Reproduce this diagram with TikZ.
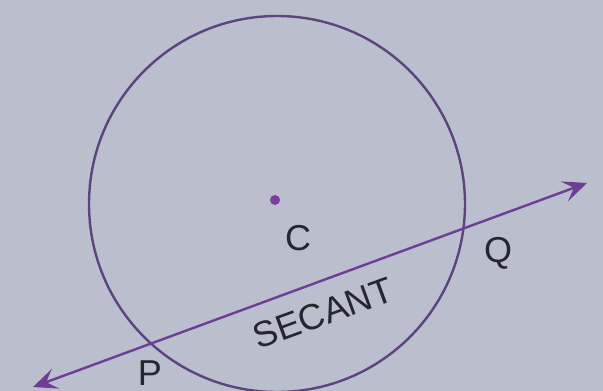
\documentclass[tikz,border=0pt]{standalone}
\usepackage{fontspec}
\setmainfont{Liberation Sans}
\usetikzlibrary{arrows.meta}
\definecolor{bg}{RGB}{186,190,205}
\definecolor{circ}{RGB}{92,68,125}
\definecolor{secline}{RGB}{110,62,148}
\definecolor{ink}{RGB}{38,38,46}
\definecolor{dotc}{RGB}{125,60,160}
\tikzset{
  lbl/.style={text=ink, font=\fontsize{36}{40}\selectfont, inner sep=0pt},
  secant/.style={secline, line width=2.4pt, >={Stealth[length=24pt,width=21pt,inset=10pt]}, <->},
}
\begin{document}
\begin{tikzpicture}[x=1pt,y=-1pt]
\fill[bg] (0,0) rectangle (603,391);
\useasboundingbox (0,0) rectangle (603,391);
\coordinate (O) at (277,204);
\draw[circ, line width=2.4pt] (O) circle [radius=188pt];
\coordinate (A) at (33,387);
\coordinate (B) at (587,183);
\draw[secant] (A) -- (B);
\node[circle, fill=dotc, inner sep=0pt, minimum size=10pt] (Cd) at (275,200) {};
\node[lbl] (C) at (298,238) {C};
\node[lbl] (Q) at (498,253) {Q};
\node[lbl] (P) at (150,373) {P};
\node[lbl, rotate=20] (S) at (323,313) {SECANT};
\end{tikzpicture}
\end{document}
